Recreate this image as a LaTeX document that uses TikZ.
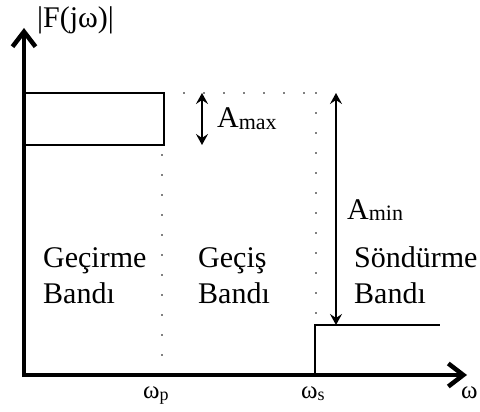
\documentclass[tikz,border=0pt]{standalone}
\usepackage{fontspec}
\setmainfont{Liberation Serif}
\usetikzlibrary{arrows.meta}
\begin{document}
\begin{tikzpicture}[x=1pt,y=-1pt,
  axis/.style={line width=4.5pt,-{Straight Barb[length=15pt,width=23pt,line width=4.5pt]}},
  thin/.style={line width=1.5pt},
  dotline/.style={line width=1.8pt,line cap=round,dash pattern=on 0pt off 20pt},
  dimarrow/.style={line width=1.7pt,{Stealth[length=11pt,width=12pt,inset=4pt]}-{Stealth[length=11pt,width=12pt,inset=4pt]}},
  lbl/.style={anchor=base west,inner sep=0pt,font=\fontsize{30}{36}\selectfont},
  wlbl/.style={anchor=base west,inner sep=0pt,font=\fontsize{25}{30}\selectfont}]
\useasboundingbox (0,0) rectangle (480,412);
\clip (0,0) rectangle (480,412);
% key points
\coordinate (Ytip) at (24,28);
\coordinate (Xtip) at (467,375);
\coordinate (Xstart) at (22,375);
\coordinate (Ystart) at (24,377);
\coordinate (R1) at (24,93);
\coordinate (R2) at (164,145);
\coordinate (Pt) at (162,146);
\coordinate (Pb) at (162,375);
\coordinate (Dt) at (164,93);
\coordinate (Cs) at (316,93);
\coordinate (Sb) at (316,325);
\coordinate (S0) at (315,375);
\coordinate (S1) at (315,325);
\coordinate (S2) at (440,325);
\coordinate (AmaxT) at (202,93);
\coordinate (AmaxB) at (202,145);
\coordinate (AminT) at (336,93);
\coordinate (AminB) at (336,325);
% axes
\draw[axis] (Ystart) -- (Ytip);
\draw[axis] (Xstart) -- (Xtip);
% passband rectangle
\draw[thin] (R1) rectangle (R2);
% dotted guides
\draw[dotline] (Dt) -- (Cs);
\draw[dotline] (Cs) -- (Sb);
\draw[dotline] (Pb) -- (Pt);
% stopband step
\draw[thin] (S0) -- (S1) -- (S2);
% attenuation arrows
\draw[dimarrow] (AmaxT) -- (AmaxB);
\draw[dimarrow] (AminT) -- (AminB);
% labels
\node[lbl] (fj) at (37,28) {|F(j\char"03C9)|};
\node[lbl] (amax) at (217,128) {A\raisebox{-1.5pt}{\fontsize{22}{26}\selectfont max}};
\node[lbl] (amin) at (347,219) {A\raisebox{-1.5pt}{\fontsize{22}{26}\selectfont min}};
\node[lbl] (g1) at (43,267) {Geçirme};
\node[lbl] (g2) at (43,303) {Bandı};
\node[lbl] (c1) at (198,267) {Geçiş};
\node[lbl] (c2) at (198,303) {Bandı};
\node[lbl] (s1) at (354,267) {Söndürme};
\node[lbl] (s2) at (354,303) {Bandı};
\node[wlbl] (wp) at (143,398) {\char"03C9\raisebox{-2pt}{\fontsize{18}{20}\selectfont p}};
\node[wlbl] (ws) at (301,398) {\char"03C9\raisebox{-2pt}{\fontsize{18}{20}\selectfont s}};
\node[wlbl] (w) at (461,398) {\char"03C9};
\end{tikzpicture}
\end{document}
